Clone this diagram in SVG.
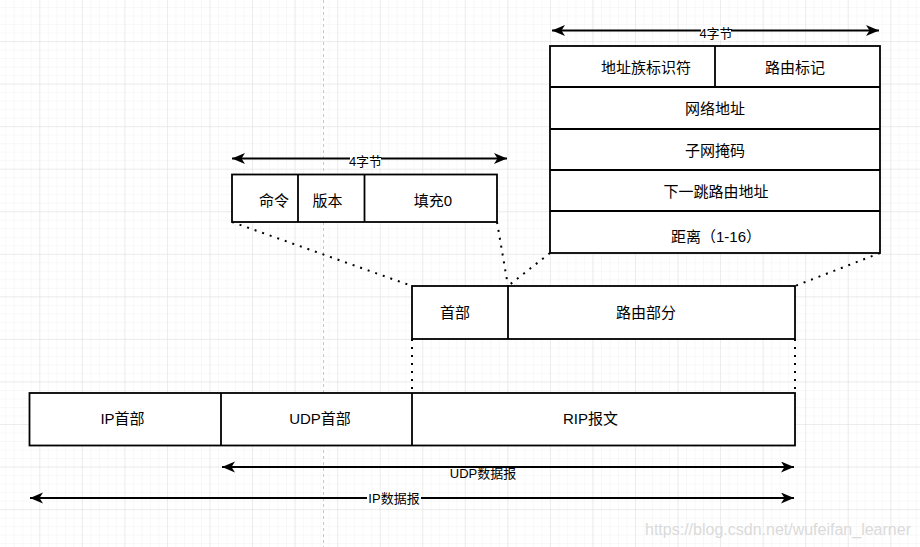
<svg xmlns="http://www.w3.org/2000/svg" width="920" height="547" viewBox="0 0 920 547">
<style>
.box{fill:#fff;stroke:#000;stroke-width:1.8}
.div{stroke:#000;stroke-width:1.8;fill:none}
.t{font-family:"Liberation Sans","Noto Sans CJK SC",sans-serif;font-size:15px;fill:#000;text-anchor:middle;dominant-baseline:central}
.s{font-size:13px}
.arr{stroke:#000;stroke-width:2;fill:none;marker-start:url(#ah);marker-end:url(#ah)}
.dot{stroke:#000;stroke-width:2;fill:none;stroke-dasharray:2 6}
</style>
<defs>
<pattern id="minor" patternUnits="userSpaceOnUse" x="-3.25" y="-1.5" width="8.51" height="8.51">
<path d="M0,0 V8.51 M0,0 H8.51" stroke="#f2f2f2" stroke-width="1" fill="none"/>
</pattern>
<pattern id="major" patternUnits="userSpaceOnUse" x="-3.25" y="-1.5" width="42.55" height="42.55">
<path d="M0,0 V42.55 M0,0 H42.55" stroke="#e0e0e0" stroke-width="1" fill="none"/>
</pattern>
<marker id="ah" markerUnits="userSpaceOnUse" markerWidth="15" markerHeight="13" refX="13" refY="5.5" orient="auto-start-reverse" viewBox="0 0 15 13">
<path d="M0,0 L13,5.5 L0,11 L3.5,5.5 Z" fill="#000"/>
</marker>
</defs>
<rect width="920" height="547" fill="#fff"/>
<rect width="920" height="547" fill="url(#minor)"/>
<rect width="920" height="547" fill="url(#major)"/>
<line x1="323.5" y1="0" x2="323.5" y2="547" stroke="#c8c8c8" stroke-width="1" stroke-dasharray="3 3"/>

<g id="connectors">
<line class="arr" x1="552" y1="30.5" x2="879" y2="30.5"/>
<line class="arr" x1="232" y1="158.5" x2="507" y2="158.5"/>
<line class="arr" x1="222" y1="467" x2="794" y2="467"/>
<line class="arr" x1="30" y1="498" x2="794" y2="498"/>
<line class="dot" x1="232" y1="222" x2="412" y2="286"/>
<line class="dot" x1="497" y1="222" x2="508" y2="286"/>
<line class="dot" x1="550" y1="253" x2="508" y2="286"/>
<line class="dot" x1="880" y1="253" x2="795" y2="286"/>
<line class="dot" x1="412" y1="339" x2="412" y2="392"/>
<line class="dot" x1="795" y1="339" x2="795" y2="392"/>
</g>

<g id="label-4bytes-top">
<rect x="701" y="26" width="30" height="14" fill="#fff"/>
<text class="t s" x="716" y="33.5">4字节</text>
</g>
<g id="label-4bytes-mid">
<rect x="350" y="155" width="31" height="13" fill="#fff"/>
<text class="t s" x="365.5" y="161.5">4字节</text>
</g>
<g id="label-udp">
<text class="t s" x="483" y="473">UDP数据报</text>
</g>
<g id="label-ip">
<rect x="367" y="491" width="54" height="14" fill="#fff"/>
<text class="t s" x="394" y="498.5">IP数据报</text>
</g>

<g id="rip-entry">
<rect class="box" x="550" y="46" width="330" height="207"/>
<line class="div" x1="550" y1="87" x2="880" y2="87"/>
<line class="div" x1="550" y1="129" x2="880" y2="129"/>
<line class="div" x1="550" y1="170" x2="880" y2="170"/>
<line class="div" x1="550" y1="211" x2="880" y2="211"/>
<line class="div" x1="715" y1="46" x2="715" y2="87"/>
<text class="t" x="646" y="67">地址族标识符</text>
<text class="t" x="795" y="67">路由标记</text>
<text class="t" x="715" y="108">网络地址</text>
<text class="t" x="715" y="150">子网掩码</text>
<text class="t" x="716" y="191">下一跳路由地址</text>
<text class="t" x="716" y="236">距离（1-16）</text>
</g>

<g id="rip-header">
<rect class="box" x="232" y="174.5" width="265" height="47.5"/>
<line class="div" x1="298" y1="174.5" x2="298" y2="222"/>
<line class="div" x1="364.5" y1="174.5" x2="364.5" y2="222"/>
<text class="t" x="274" y="200.5">命令</text>
<text class="t" x="327.5" y="200.5">版本</text>
<text class="t" x="433" y="200.5">填充0</text>
</g>

<g id="rip-message">
<rect class="box" x="412" y="286" width="383" height="53"/>
<line class="div" x1="508" y1="286" x2="508" y2="339"/>
<text class="t" x="455" y="312.5">首部</text>
<text class="t" x="646" y="312.5">路由部分</text>
</g>

<g id="ip-datagram">
<rect class="box" x="29.5" y="393" width="765.5" height="52.5"/>
<line class="div" x1="221" y1="393" x2="221" y2="445.5"/>
<line class="div" x1="412" y1="393" x2="412" y2="445.5"/>
<text class="t" x="122.5" y="418.5">IP首部</text>
<text class="t" x="320" y="418.5">UDP首部</text>
<text class="t" x="590.5" y="418.5">RIP报文</text>
</g>

<text x="778" y="529" font-family="Liberation Sans, sans-serif" font-size="16" fill="#dadada" text-anchor="middle" dominant-baseline="central">https://blog.csdn.net/wufeifan_learner</text>
</svg>
